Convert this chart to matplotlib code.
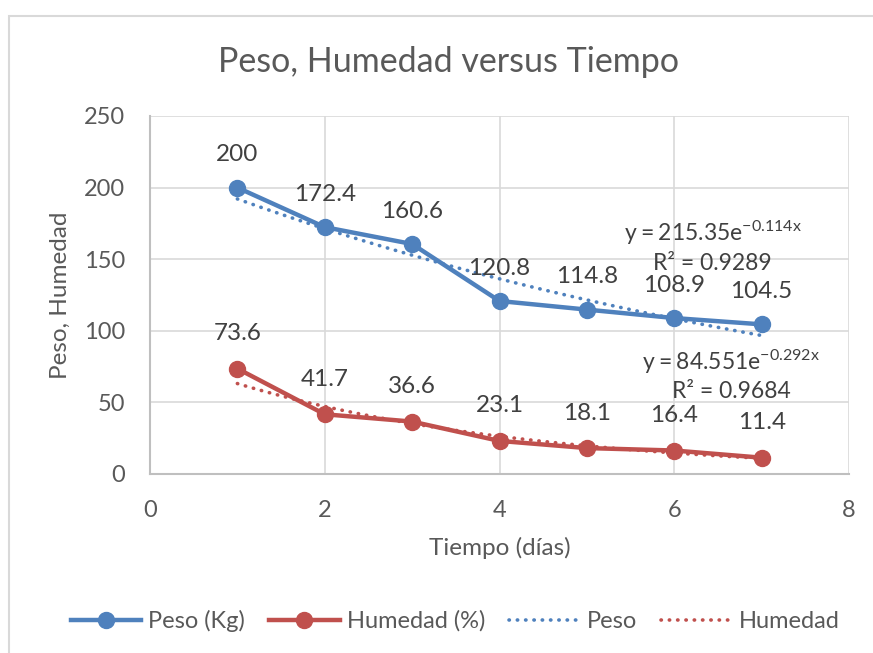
import numpy as np
import matplotlib.pyplot as plt
from matplotlib.lines import Line2D
from matplotlib.patches import Rectangle

plt.rcParams['font.family'] = ['Lato', 'DejaVu Sans']
plt.rcParams['mathtext.default'] = 'regular'

# data
dias = [1, 2, 3, 4, 5, 6, 7]
peso = [200, 172.4, 160.6, 120.8, 114.8, 108.9, 104.5]
humedad = [73.6, 41.7, 36.6, 23.1, 18.1, 16.4, 11.4]
x_ticks = [0, 2, 4, 6, 8]
y_ticks = [0, 50, 100, 150, 200, 250]

azul = '#4F81BD'
rojo = '#C0504D'
gris = '#595959'
oscuro = '#404040'
punteado = (0, (0.1, 2.2))

fig = plt.figure(figsize=(8.73, 6.53), dpi=100)
# chart area border
fig.patches.append(Rectangle((9 / 873, -0.1), 1.2, 1 - 16 / 653 + 0.1,
                             transform=fig.transFigure, fill=False,
                             edgecolor='#D9D9D9', linewidth=1.5))

ax = fig.add_axes([150 / 873, 1 - 474 / 653, 699 / 873, 358 / 653])

# exponential trendlines fitted from the data
x = np.array(dias, dtype=float)
b_p, lna_p = np.polyfit(x, np.log(peso), 1)
b_h, lna_h = np.polyfit(x, np.log(humedad), 1)
xt = np.linspace(1, 7, 80)
ax.plot(xt, np.exp(lna_p) * np.exp(b_p * xt), color=azul, lw=2.6,
        linestyle=punteado, dash_capstyle='round', zorder=3)
ax.plot(xt, np.exp(lna_h) * np.exp(b_h * xt), color=rojo, lw=2.6,
        linestyle=punteado, dash_capstyle='round', zorder=3)

ax.plot(dias, peso, color=azul, lw=3.2, marker='o', ms=11.5, zorder=4)
ax.plot(dias, humedad, color=rojo, lw=3.2, marker='o', ms=11.5, zorder=4)

for xi, yi in zip(dias, peso):
    ax.annotate(f'{yi:g}', (xi, yi), xytext=(0, 33), textcoords='offset pixels',
                ha='center', va='center', fontsize=17.5, color=oscuro)
for xi, yi in zip(dias, humedad):
    ax.annotate(f'{yi:g}', (xi, yi), xytext=(0, 35), textcoords='offset pixels',
                ha='center', va='center', fontsize=17.5, color=oscuro)

# trendline equations
ax.text(6.44, 168.5, f'$y = {np.exp(lna_p):.2f}e^{{{b_p:.3f}x}}$',
        ha='center', va='center', fontsize=16.5, color=oscuro)
ax.text(6.44, 147.3, 'R² = 0.9289', ha='center', va='center', fontsize=16.5, color=oscuro)
ax.text(6.65, 78, f'$y = {np.exp(lna_h):.3f}e^{{{b_h:.3f}x}}$',
        ha='center', va='center', fontsize=16.5, color=oscuro)
ax.text(6.65, 57.3, 'R² = 0.9684', ha='center', va='center', fontsize=16.5, color=oscuro)

ax.set_xlim(0, 8)
ax.set_ylim(0, 250)
ax.set_xticks(x_ticks)
ax.set_yticks(y_ticks)
ax.tick_params(length=0, labelsize=17, labelcolor=gris)
ax.tick_params(axis='y', pad=18)
ax.tick_params(axis='x', pad=19)
ax.grid(True, color='#D9D9D9', lw=1.2)
ax.set_axisbelow(True)
for s in ['top', 'right']:
    ax.spines[s].set_visible(False)
for s in ['left', 'bottom']:
    ax.spines[s].set_color('#BFBFBF')
    ax.spines[s].set_linewidth(1.5)

ax.set_xlabel('Tiempo (días)', fontsize=17.5, color=gris, va='center')
ax.set_ylabel('Peso, Humedad', fontsize=17.5, color=gris, va='center')
ax.xaxis.set_label_coords(0.5, (474 - 548) / 358)
ax.yaxis.set_label_coords((60 - 150) / 699, 0.5)
fig.text(449 / 873, 1 - 62 / 653, 'Peso, Humedad versus Tiempo',
         ha='center', va='center', fontsize=24.5, color=gris)

handles = [
    Line2D([], [], color=azul, lw=3.2, marker='o', ms=11.5),
    Line2D([], [], color=rojo, lw=3.2, marker='o', ms=11.5),
    Line2D([], [], color=azul, lw=2.6, linestyle=punteado, dash_capstyle='round'),
    Line2D([], [], color=rojo, lw=2.6, linestyle=punteado, dash_capstyle='round'),
]
labels = ['Peso (Kg)', 'Humedad (%)', 'Peso', 'Humedad']
leg = fig.legend(handles, labels, loc='center', bbox_to_anchor=(455 / 873, 1 - 621 / 653),
                 ncol=4, frameon=False, fontsize=17, handlelength=3.0,
                 handletextpad=0.3, columnspacing=1.0)
for t in leg.get_texts():
    t.set_color(gris)

fig.savefig('out.png', dpi=100)
